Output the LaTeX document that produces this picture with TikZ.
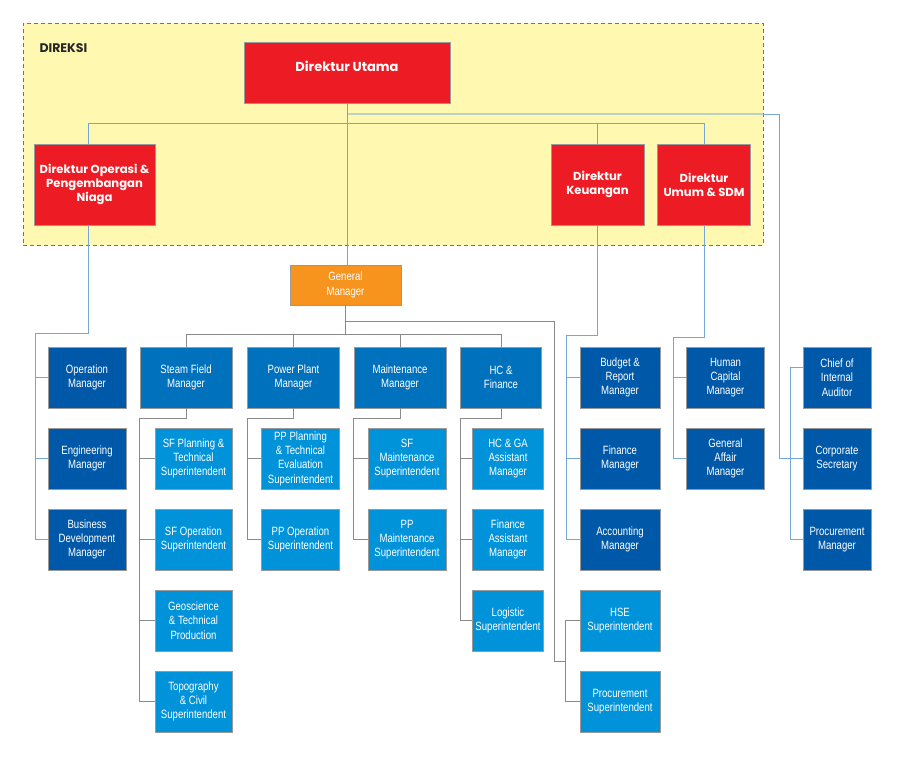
\documentclass[tikz,border=0pt]{standalone}
\usepackage{fontspec}
\setmainfont{Liberation Sans}
\newfontfamily\condfont[FakeStretch=0.8]{Liberation Sans}
\newfontfamily\dirfont{Poppins}
\usetikzlibrary{positioning}
\definecolor{dirred}{HTML}{ED1C24}
\definecolor{direksiyellow}{HTML}{FFF8B0}
\definecolor{gmorange}{HTML}{F7941D}
\definecolor{headblue}{HTML}{0071BC}
\definecolor{mgrblue}{HTML}{0059A8}
\definecolor{supblue}{HTML}{0093DA}
\definecolor{linkblue}{HTML}{74A6D6}
\definecolor{linkgrey}{HTML}{8A8A8A}
\definecolor{linkpale}{HTML}{BCD2C8}

\begin{document}
\begin{tikzpicture}[x=1pt,y=-1pt,node distance=19.5pt,
  box/.style={draw=black!40,line width=0.5pt,text=white,align=center,minimum height=61pt,inner sep=1pt,font=\condfont\fontsize{12}{14.3}\selectfont},
  mgrbox/.style={box,fill=mgrblue,minimum width=#1},
  headbox/.style={box,fill=headblue,minimum width=#1},
  supbox/.style={box,fill=supblue,minimum width=#1},
  dirbox/.style={draw=black!40,line width=0.5pt,fill=dirred,text=white,align=center,minimum height=81pt,inner sep=1pt,font=\dirfont\bfseries\fontsize{11.6}{14}\selectfont},
  gmbox/.style={box,fill=gmorange,minimum width=111pt,minimum height=40pt},
  direksi/.style={draw=black!55,dashed,dash pattern=on 4pt off 3pt,fill=direksiyellow,minimum width=740pt,minimum height=222pt,inner sep=0pt},
  bluelink/.style={draw=linkblue,line width=0.9pt},
  greylink/.style={draw=linkgrey,line width=0.9pt},
  palelink/.style={draw=linkpale,line width=2pt}]
\useasboundingbox (0,0) rectangle (900,760);
\node[direksi] (direksi) at (393,134) {};
\node[anchor=west,text=black!85,font=\dirfont\bfseries\fontsize{12.5}{14}\selectfont] (direksilabel) at (36,48) {DIREKSI};
\node[dirbox,minimum width=206pt,minimum height=61pt,text depth=13pt,font=\dirfont\bfseries\fontsize{13}{15}\selectfont] (du) at (347,72.5) {Direktur Utama};
\node[dirbox,minimum width=121pt] (dop) at (94.5,184.5) {Direktur Operasi \&\\Pengembangan\\Niaga};
\node[dirbox,minimum width=93pt] (dk) at (597.5,184.5) {Direktur\\Keuangan};
\node[dirbox,minimum width=93pt,right=13pt of dk] (dsdm) {Direktur\\Umum \& SDM};
\node[gmbox] (gm) at (345.5,285) {General\\Manager};
\node[mgrbox=78pt] (om) at (87,377.5) {Operation\\Manager};
\node[mgrbox=78pt,below=of om] (eng) {Engineering\\Manager};
\node[mgrbox=78pt,below=of eng] (bdm) {Business\\Development\\Manager};
\node[headbox=92pt] (sfm) at (186,377.5) {Steam Field\\Manager};
\node[headbox=92pt,right=15pt of sfm] (ppm) {Power Plant\\Manager};
\node[headbox=92pt,right=14pt of ppm] (mm) {Maintenance\\Manager};
\node[headbox=81pt,right=14pt of mm] (hcf) {HC \&\\Finance};
\node[mgrbox=80pt] (bud) at (620,377.5) {Budget \&\\Report\\Manager};
\node[mgrbox=80pt,below=of bud] (fin) {Finance\\Manager};
\node[mgrbox=80pt,below=of fin] (acc) {Accounting\\Manager};
\node[supbox=80pt,below=of acc] (hse) {HSE\\Superintendent};
\node[supbox=80pt,below=of hse] (proc) {Procurement\\Superintendent};
\node[mgrbox=78pt,right=26pt of bud] (hcm) {Human\\Capital\\Manager};
\node[mgrbox=78pt,below=of hcm] (gam) {General\\Affair\\Manager};
\node[mgrbox=68pt,right=38pt of hcm] (cia) {Chief of\\Internal\\Auditor};
\node[mgrbox=68pt,below=of cia] (cs) {Corporate\\Secretary};
\node[mgrbox=68pt,below=of cs] (pm) {Procurement\\Manager};
\node[supbox=77pt,below=of sfm.south east,anchor=north east] (sf1) {SF Planning \&\\Technical\\Superintendent};
\node[supbox=77pt,below=of sf1] (sf2) {SF Operation\\Superintendent};
\node[supbox=77pt,below=of sf2] (sf3) {Geoscience\\\& Technical\\Production};
\node[supbox=77pt,below=of sf3] (sf4) {Topography\\\& Civil\\Superintendent};
\node[supbox=78pt,below=of ppm.south east,anchor=north east] (pp1) {PP Planning\\\& Technical\\Evaluation\\Superintendent};
\node[supbox=78pt,below=of pp1] (pp2) {PP Operation\\Superintendent};
\node[supbox=78pt,below=of mm.south east,anchor=north east] (mm1) {SF\\Maintenance\\Superintendent};
\node[supbox=78pt,below=of mm1] (mm2) {PP\\Maintenance\\Superintendent};
\node[supbox=71pt,below=of hcf.south east,anchor=north east,xshift=2pt] (hc1) {HC \& GA\\Assistant\\Manager};
\node[supbox=71pt,below=of hc1] (hc2) {Finance\\Assistant\\Manager};
\node[supbox=71pt,below=of hc2] (hc3) {Logistic\\Superintendent};
\coordinate (audsp) at (779,114);
\coordinate (ausp) at (790,0);
\coordinate (opsp) at (35,333);
\coordinate (kusp) at (566,335);
\coordinate (sdsp) at (673,337);
\coordinate (gmsp) at (554,321);
\coordinate (hssp) at (565,661);
\draw[bluelink] (du.south) |- (audsp) |- (cs.west);
\draw[palelink] (du.south |- audsp) -- (direksi.east |- audsp);
\draw[bluelink] ([yshift=10pt]cia.west) -| (ausp |- pm.west) -- (pm.west);
\draw[bluelink] (du.south) -- ++(0,20) -| ([xshift=-6pt]dop.north);
\foreach \n in {dk,dsdm} \draw[bluelink] (du.south) -- ++(0,20) -| (\n.north);
\draw[bluelink] (du.south) -- (du.south |- gm.north);
\foreach \n in {om,eng,bdm} \draw[bluelink] ([xshift=-6pt]dop.south) |- (opsp) |- (\n.west);
\foreach \n in {bud,fin,acc} \draw[bluelink] (dk.south) |- (kusp) |- (\n.west);
\foreach \n in {hcm,gam} \draw[bluelink] (dsdm.south) |- (sdsp) |- (\n.west);
\foreach \n in {sfm,ppm,mm,hcf} \draw[greylink] (gm.south) -- ++(0,29) -| (\n.north);
\foreach \n in {hse,proc} \draw[greylink] (gm.south) |- (gmsp) |- (hssp) |- (\n.west);
\foreach \h/\s in {sfm/{sf1,sf2,sf3,sf4},ppm/{pp1,pp2},mm/{mm1,mm2},hcf/{hc1,hc2,hc3}}
  \foreach \n in \s \draw[greylink] (\h.south) -- ++(0,10) -| ([yshift=-10pt]\h.south west) |- (\n.west);
\end{tikzpicture}
\end{document}
